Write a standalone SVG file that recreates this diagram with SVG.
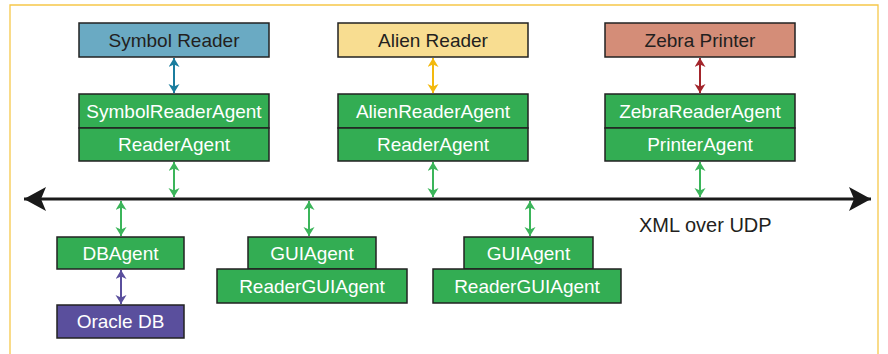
<svg xmlns="http://www.w3.org/2000/svg" width="888" height="354" viewBox="0 0 888 354">
<style>
  .box{stroke:#222;stroke-width:1.5}
  .g{fill:#33ad53}
  .lbl{font-family:"Liberation Sans",Arial,sans-serif;font-size:19px;text-anchor:middle}
  .w{fill:#fff}
  .d{fill:#231f20}
  .conn{fill:none;stroke-width:2}
</style>
<defs>
  <marker id="ag" markerUnits="userSpaceOnUse" markerWidth="10" markerHeight="12" refX="9" refY="5.5" orient="auto-start-reverse"><path d="M0,0 L9,5.5 L0,11 L2.5,5.5 z" fill="#3bb55a"/></marker>
  <marker id="ab" markerUnits="userSpaceOnUse" markerWidth="10" markerHeight="12" refX="9" refY="5.5" orient="auto-start-reverse"><path d="M0,0 L9,5.5 L0,11 L2.5,5.5 z" fill="#1b7d9e"/></marker>
  <marker id="ay" markerUnits="userSpaceOnUse" markerWidth="10" markerHeight="12" refX="9" refY="5.5" orient="auto-start-reverse"><path d="M0,0 L9,5.5 L0,11 L2.5,5.5 z" fill="#f3b90e"/></marker>
  <marker id="ar" markerUnits="userSpaceOnUse" markerWidth="10" markerHeight="12" refX="9" refY="5.5" orient="auto-start-reverse"><path d="M0,0 L9,5.5 L0,11 L2.5,5.5 z" fill="#a3252b"/></marker>
  <marker id="ap" markerUnits="userSpaceOnUse" markerWidth="10" markerHeight="12" refX="9" refY="5.5" orient="auto-start-reverse"><path d="M0,0 L9,5.5 L0,11 L2.5,5.5 z" fill="#5a4f9d"/></marker>
  <marker id="abus" markerUnits="userSpaceOnUse" markerWidth="24" markerHeight="25" refX="22" refY="12" orient="auto-start-reverse"><path d="M0,0 L22,12 L0,24 L5,12 z" fill="#1a1a1a"/></marker>
</defs>

<path id="frame" d="M10,354 L10,5 L878,5 L878,354" fill="none" stroke="#f6c84a" stroke-width="1.3"/>

<g id="symbol-reader"><rect class="box" x="79" y="23" width="190" height="34" fill="#6aaac3"/><text class="lbl d" x="174" y="47">Symbol Reader</text></g>
<g id="symbol-reader-agent"><rect class="box g" x="79" y="94" width="190" height="34"/><text class="lbl w" x="174" y="117.5">SymbolReaderAgent</text></g>
<g id="symbol-agent"><rect class="box g" x="79" y="128" width="190" height="33"/><text class="lbl w" x="174" y="151">ReaderAgent</text></g>

<g id="alien-reader"><rect class="box" x="338" y="23" width="190" height="34" fill="#f8dd91"/><text class="lbl d" x="433" y="47">Alien Reader</text></g>
<g id="alien-reader-agent"><rect class="box g" x="338" y="94" width="190" height="34"/><text class="lbl w" x="433" y="117.5">AlienReaderAgent</text></g>
<g id="alien-agent"><rect class="box g" x="338" y="128" width="190" height="33"/><text class="lbl w" x="433" y="151">ReaderAgent</text></g>

<g id="zebra-printer"><rect class="box" x="605" y="23" width="190" height="34" fill="#d48d78"/><text class="lbl d" x="700" y="47">Zebra Printer</text></g>
<g id="zebra-reader-agent"><rect class="box g" x="605" y="94" width="190" height="34"/><text class="lbl w" x="700" y="117.5">ZebraReaderAgent</text></g>
<g id="printer-agent"><rect class="box g" x="605" y="128" width="190" height="33"/><text class="lbl w" x="700" y="151">PrinterAgent</text></g>

<g id="db-agent"><rect class="box g" x="57" y="237" width="127" height="32"/><text class="lbl w" x="120.5" y="259.5">DBAgent</text></g>
<g id="oracle-db"><rect class="box" x="57" y="305" width="127" height="33" fill="#5a4f9d"/><text class="lbl w" x="120.5" y="328">Oracle DB</text></g>

<g id="gui-agent-1"><rect class="box g" x="248" y="237" width="128" height="32"/><text class="lbl w" x="312" y="259.5">GUIAgent</text></g>
<g id="reader-gui-agent-1"><rect class="box g" x="217" y="269" width="190" height="34"/><text class="lbl w" x="312" y="292.5">ReaderGUIAgent</text></g>

<g id="gui-agent-2"><rect class="box g" x="464" y="237" width="129" height="32"/><text class="lbl w" x="528.5" y="259.5">GUIAgent</text></g>
<g id="reader-gui-agent-2"><rect class="box g" x="433" y="269" width="188" height="34"/><text class="lbl w" x="527" y="292.5">ReaderGUIAgent</text></g>

<g id="connectors">
  <line x1="24" y1="199" x2="871" y2="199" stroke="#1a1a1a" stroke-width="3" marker-start="url(#abus)" marker-end="url(#abus)"/>
  <line class="conn" x1="174" y1="58" x2="174" y2="93" stroke="#1b7d9e" marker-start="url(#ab)" marker-end="url(#ab)"/>
  <line class="conn" x1="433" y1="58" x2="433" y2="93" stroke="#f3b90e" marker-start="url(#ay)" marker-end="url(#ay)"/>
  <line class="conn" x1="700" y1="58" x2="700" y2="93" stroke="#a3252b" marker-start="url(#ar)" marker-end="url(#ar)"/>
  <line class="conn" x1="174" y1="162" x2="174" y2="197" stroke="#3bb55a" marker-start="url(#ag)" marker-end="url(#ag)"/>
  <line class="conn" x1="433" y1="162" x2="433" y2="197" stroke="#3bb55a" marker-start="url(#ag)" marker-end="url(#ag)"/>
  <line class="conn" x1="700" y1="162" x2="700" y2="197" stroke="#3bb55a" marker-start="url(#ag)" marker-end="url(#ag)"/>
  <line class="conn" x1="121" y1="201" x2="121" y2="236" stroke="#3bb55a" marker-start="url(#ag)" marker-end="url(#ag)"/>
  <line class="conn" x1="309" y1="201" x2="309" y2="236" stroke="#3bb55a" marker-start="url(#ag)" marker-end="url(#ag)"/>
  <line class="conn" x1="530" y1="201" x2="530" y2="236" stroke="#3bb55a" marker-start="url(#ag)" marker-end="url(#ag)"/>
  <line class="conn" x1="121" y1="270" x2="121" y2="304" stroke="#5a4f9d" marker-start="url(#ap)" marker-end="url(#ap)"/>
</g>

<text class="d" x="639" y="232" font-family="'Liberation Sans',Arial,sans-serif" font-size="20">XML over UDP</text>
</svg>
